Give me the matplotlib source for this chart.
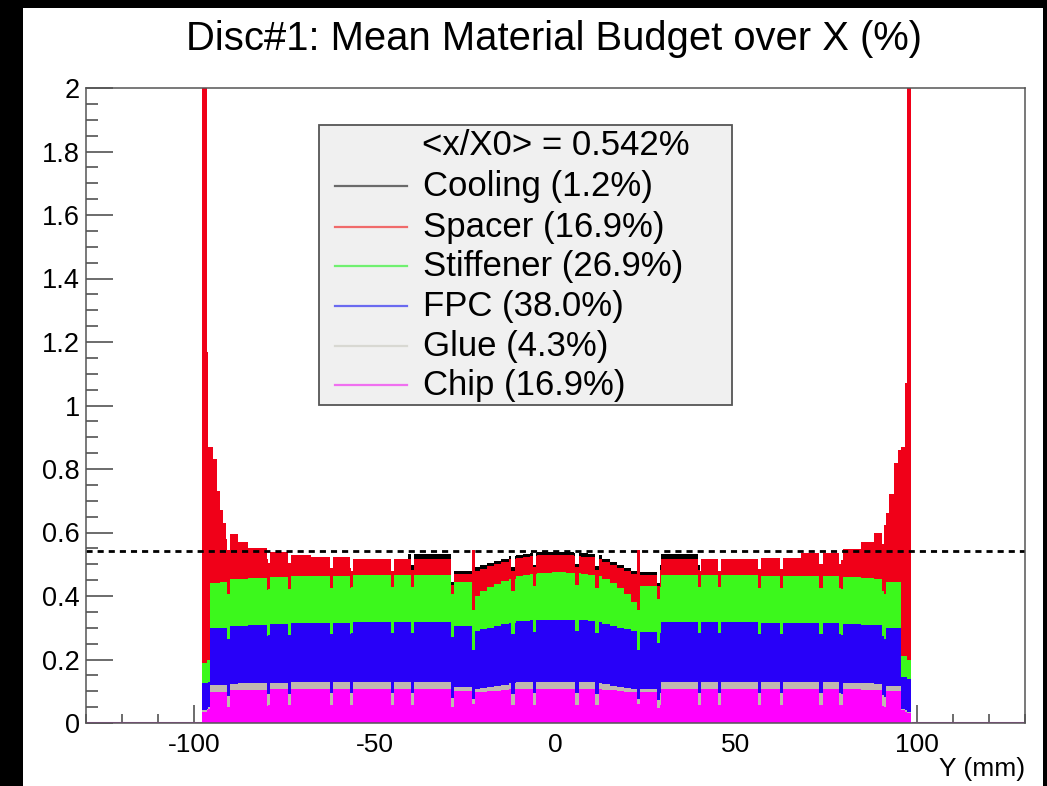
import numpy as np
import matplotlib
matplotlib.use("Agg")
import matplotlib.pyplot as plt
from matplotlib.patches import Rectangle
from matplotlib.lines import Line2D
from matplotlib.ticker import MultipleLocator, FixedLocator

plt.rcParams["font.family"] = ["Liberation Sans", "DejaVu Sans"]
plt.rcParams["axes.unicode_minus"] = False

# ---------------- data ----------------
# profile segment edges along Y (mm)
seg_edges = [-98.0, -96.6, -96.1, -95.8, -94.7, -93.8, -92.9, -92.0, -91.1, -90.2,
             -87.8, -85.1, -79.5, -73.1, -67.6, -56.5, -40.8, -28.8, -23.2,
             -21.0, -19.0, -17.0, -15.0, -13.0, -11.0, -9.0, -7.0, -5.0, -3.0, -1.0,
             1.0, 3.0, 5.0, 7.0, 9.0, 11.0, 13.0, 15.0, 17.0, 19.0, 21.0, 23.3,
             28.8, 40.0, 56.0, 68.0, 79.0, 84.6, 88.2, 91.0, 92.4, 93.8, 94.8, 95.7,
             96.8, 97.3, 98.3]

# cumulative top of each stacked component per segment (x/X0 in %)
chip_top = [.035, .040, .045, .098, .098, .098, .098, .099, .099, .103,
            .104, .105, .106, .107, .108, .108, .108, .100,
            .098, .099, .100, .102, .104, .106, .108, .108, .108, .108, .108, .108,
            .108, .108, .108, .108, .108, .107, .105, .103, .101, .099, .098,
            .098, .108, .108, .108, .107, .106, .105, .104, .100, .100, .100, .100,
            .040, .035, .030]
glue_top = [.040, .045, .050, .119, .119, .119, .119, .120, .120, .124,
            .125, .126, .127, .128, .129, .129, .129, .114,
            .108, .110, .113, .117, .121, .125, .129, .129, .129, .129, .129, .129,
            .129, .129, .129, .129, .129, .126, .122, .118, .114, .111, .108,
            .108, .129, .129, .129, .128, .127, .125, .124, .118, .118, .118, .118,
            .045, .040, .035]
fpc_top = [.125, .125, .128, .298, .298, .298, .299, .300, .300, .305,
           .307, .310, .312, .314, .316, .318, .318, .305,
           .290, .296, .300, .306, .311, .316, .320, .322, .323, .325, .325, .325,
           .325, .325, .324, .323, .322, .318, .313, .307, .300, .295, .290,
           .288, .318, .318, .316, .314, .312, .310, .308, .300, .300, .300, .300,
           .145, .145, .140]
stiff_top = [.190, .200, .200, .440, .442, .442, .443, .444, .444, .452,
             .455, .458, .460, .462, .464, .465, .465, .445,
             .400, .415, .428, .438, .447, .455, .462, .466, .469, .472, .474, .475,
             .475, .474, .472, .470, .467, .462, .452, .440, .425, .405, .380,
             .430, .465, .465, .464, .462, .460, .458, .455, .444, .444, .444, .444,
             .210, .210, .200]
spacer_top = [2.5, 1.17, .87, .87, .83, .73, .67, .63, .58, .595,
              .57, .552, .54, .53, .522, .515, .518, .470,
              .478, .485, .493, .500, .507, .515, .520, .523, .525, .528, .530, .530,
              .530, .528, .526, .524, .522, .517, .508, .498, .488, .478, .470,
              .465, .518, .515, .520, .535, .548, .570, .600, .660, .720, .820, .860,
              .870, 1.07, 2.5]
cooling_top = [2.5, 1.17, .87, .87, .83, .73, .67, .63, .58, .595,
               .57, .552, .54, .53, .522, .515, .532, .480,
               .490, .497, .503, .510, .517, .525, .530, .532, .534, .538, .540, .540,
               .540, .538, .536, .534, .532, .528, .518, .508, .498, .488, .480,
               .475, .532, .515, .520, .535, .548, .570, .600, .660, .720, .820, .860,
               .870, 1.07, 2.5]

# narrow gaps between chips (mm) and how much each stacked top drops there
gap_centers = [-90.6, -79.4, -73.6, -62.0, -56.5, -45.2, -39.6, -28.5, -11.8, -5.8,
               6.0, 11.5, 28.7, 39.9, 45.4, 56.5, 62.5, 73.5, 79.0, 91.0]
gap_drop = [0.050, 0.035, 0.035, 0.038, 0.035, 0.035]  # chip, glue, fpc, stiff, spacer, cooling
# deep gaps with a spacer wall
wall_centers = [-22.8, 22.9]
wall_tops = [0.060, 0.075, 0.229, 0.355, 0.546, 0.546]

mean_x0 = 0.542
legend_labels = ["Cooling (1.2%)", "Spacer (16.9%)", "Stiffener (26.9%)",
                 "FPC (38.0%)", "Glue (4.3%)", "Chip (16.9%)"]
fill_colors = ["#000000", "#f00018", "#3cf81c", "#2800f8", "#c0b8b0", "#ff00ff"]
legend_colors = ["#6a6a6a", "#f06a6a", "#70f070", "#6a6af0", "#d8d8d2", "#f070f0"]
x_ticks = [-100, -50, 0, 50, 100]
x_ticklabels = ["-100", "-50", "0", "50", "100"]
y_ticks = [0, 0.2, 0.4, 0.6, 0.8, 1.0, 1.2, 1.4, 1.6, 1.8, 2.0]
y_ticklabels = ["0", "0.2", "0.4", "0.6", "0.8", "1", "1.2", "1.4", "1.6", "1.8", "2"]

GAP_W = 0.95
WALL_W = 0.75

# ---------------- build step histograms ----------------
all_edges = set(seg_edges)
for c in gap_centers:
    all_edges.update([c - GAP_W / 2, c + GAP_W / 2])
for c in wall_centers:
    all_edges.update([c - WALL_W / 2, c + WALL_W / 2])
fine = np.array(sorted(e for e in all_edges if seg_edges[0] <= e <= seg_edges[-1]))
mids = 0.5 * (fine[:-1] + fine[1:])
idx = np.searchsorted(seg_edges, mids) - 1

profiles = [chip_top, glue_top, fpc_top, stiff_top, spacer_top, cooling_top]
layers = []
for k, prof in enumerate(profiles):
    v = np.array(prof, dtype=float)[idx]
    for c in gap_centers:
        v[np.abs(mids - c) < GAP_W / 2] -= gap_drop[k]
    for c in wall_centers:
        v[np.abs(mids - c) < WALL_W / 2] = wall_tops[k]
    layers.append(v)

# ---------------- figure ----------------
W, H = 1047, 786
fig = plt.figure(figsize=(W / 100, H / 100), dpi=100, facecolor="black")
fig.patches.append(Rectangle((23 / W, 0), (1043 - 23) / W, (786 - 8) / H,
                             transform=fig.transFigure, facecolor="white",
                             edgecolor="none", zorder=-10))

def fx(x):
    return x / W

def fy(y):
    return 1 - y / H

ax = fig.add_axes([fx(86), fy(723), (1025 - 86) / W, (723 - 88) / H])
ax.set_axisbelow(True)

# draw stack: cooling (top of stack) first, chip last
fill_of_layer = [fill_colors[5], fill_colors[4], fill_colors[3],
                 fill_colors[2], fill_colors[1], fill_colors[0]]
for k in [5, 4, 3, 2, 1, 0]:
    ax.stairs(np.minimum(layers[k], 2.5), fine, baseline=0, fill=True,
              color=fill_of_layer[k], lw=0, zorder=2)

# empty bins outline at zero
ax.plot([-130, seg_edges[0]], [0, 0], color="#c040c8", lw=2.2, zorder=3, solid_capstyle="butt")
ax.plot([seg_edges[-1], 130], [0, 0], color="#c040c8", lw=2.2, zorder=3, solid_capstyle="butt")

# mean line
ax.axhline(mean_x0, color="black", lw=2.0, linestyle=(0, (2.2, 1.8)), zorder=4)

ax.set_xlim(-130, 130)
ax.set_ylim(0, 2)

# axes styling
for s in ax.spines.values():
    s.set_color("#555555")
    s.set_linewidth(1.1)
    s.set_zorder(5)
ax.xaxis.set_major_locator(FixedLocator(x_ticks))
ax.xaxis.set_minor_locator(MultipleLocator(10))
ax.yaxis.set_major_locator(FixedLocator(y_ticks))
ax.yaxis.set_minor_locator(MultipleLocator(0.05))
ax.set_xticklabels(x_ticklabels)
ax.set_yticklabels(y_ticklabels)
ax.tick_params(axis="both", which="both", direction="in", colors="#444444",
               labelcolor="black", top=False, right=False, width=1.1)
ax.tick_params(axis="y", which="major", length=19.5, pad=4.5, labelsize=19.5)
ax.tick_params(axis="y", which="minor", length=8.8)
ax.tick_params(axis="x", which="major", length=13, pad=7, labelsize=19)
ax.tick_params(axis="x", which="minor", length=6.2)

fig.text(fx(1025), fy(776), "Y (mm)", ha="right", va="baseline", fontsize=19)
fig.text(fx(554), fy(50), "Disc#1: Mean Material Budget over X (%)",
         ha="center", va="baseline", fontsize=28.8)

# legend box
fig.patches.append(Rectangle((fx(318.5), fy(405)), (731.5 - 318.5) / W, (405 - 125) / H,
                             transform=fig.transFigure, facecolor="#f0f0f0",
                             edgecolor="#555555", lw=1.3, zorder=6))
fig.text(fx(422), fy(155), "<x/X0> = %.3f%%" % mean_x0, ha="left", va="baseline",
         fontsize=25, zorder=7)
row_y = [186, 226.5, 265.5, 305.5, 346, 385]
for lab, col, yy in zip(legend_labels, legend_colors, row_y):
    fig.lines.append(Line2D([fx(335), fx(407)], [fy(yy), fy(yy)], transform=fig.transFigure,
                            color=col, lw=1.6, zorder=7))
    fig.text(fx(423), fy(yy + 10), lab, ha="left", va="baseline", fontsize=25, zorder=7)

fig.savefig("out.png", dpi=100, facecolor=fig.get_facecolor())
